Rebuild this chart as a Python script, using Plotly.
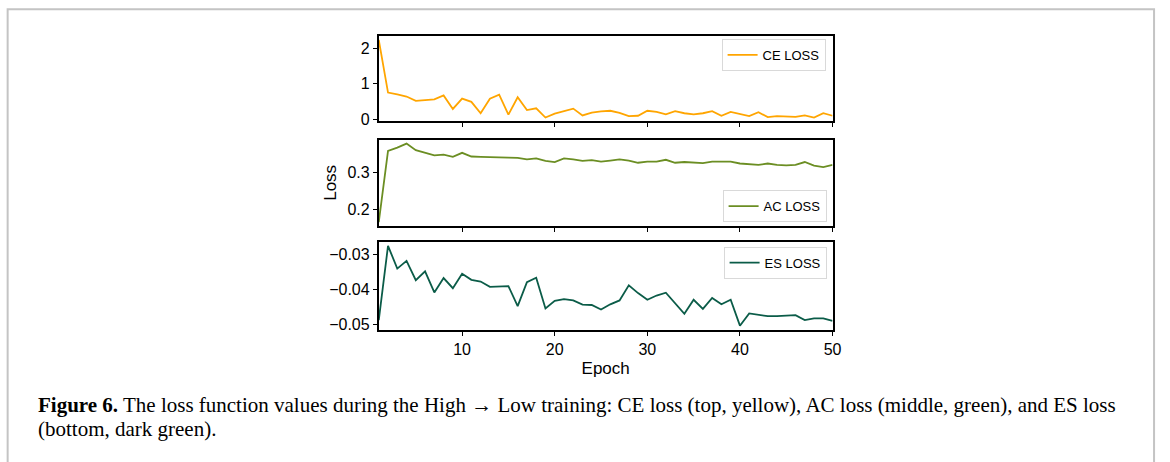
import plotly.graph_objects as go

epochs = list(range(1, 51))

ce_loss = [2.23, 0.75, 0.70, 0.64, 0.52, 0.53, 0.56, 0.67, 0.29, 0.58,
           0.49, 0.17, 0.58, 0.69, 0.13, 0.62, 0.26, 0.31, 0.05, 0.16,
           0.23, 0.30, 0.11, 0.19, 0.22, 0.24, 0.18, 0.09, 0.10, 0.24,
           0.21, 0.14, 0.23, 0.17, 0.14, 0.17, 0.23, 0.10, 0.21, 0.15,
           0.09, 0.20, 0.06, 0.09, 0.07, 0.07, 0.11, 0.05, 0.17, 0.10]

ac_loss = [0.165, 0.358, 0.367, 0.378, 0.360, 0.354, 0.346, 0.348, 0.342, 0.353,
           0.343, 0.342, 0.342, 0.340, 0.340, 0.339, 0.335, 0.338, 0.331, 0.328,
           0.338, 0.335, 0.331, 0.333, 0.329, 0.332, 0.335, 0.332, 0.326, 0.329,
           0.329, 0.334, 0.326, 0.328, 0.327, 0.325, 0.329, 0.329, 0.329, 0.324,
           0.321, 0.320, 0.324, 0.320, 0.319, 0.320, 0.328, 0.318, 0.314, 0.320]

es_loss = [-0.0488, -0.0276, -0.0341, -0.0319, -0.0374, -0.0349, -0.0409, -0.0368, -0.0397, -0.0356,
           -0.0373, -0.0378, -0.0393, -0.0391, -0.0391, -0.0448, -0.0380, -0.0367, -0.0455, -0.0433,
           -0.0428, -0.0432, -0.0444, -0.0445, -0.0458, -0.0443, -0.0432, -0.0389, -0.0411, -0.0430,
           -0.0418, -0.0410, -0.0440, -0.0470, -0.0430, -0.0456, -0.0425, -0.0443, -0.0430, -0.0504,
           -0.0469, -0.0474, -0.0477, -0.0477, -0.0475, -0.0474, -0.0488, -0.0483, -0.0483, -0.0490]

series_names = ["CE LOSS", "AC LOSS", "ES LOSS"]
series_colors = ["#FFA500", "#6B8E23", "#0B5C48"]

x_ticks = [10, 20, 30, 40, 50]
ce_ticks = [0, 1, 2]
ce_ticktext = ["0", "1", "2"]
ac_ticks = [0.2, 0.3]
ac_ticktext = ["0.2", "0.3"]
es_ticks = [-0.05, -0.04, -0.03]
es_ticktext = ["\u22120.05", "\u22120.04", "\u22120.03"]

caption_bold = "Figure 6."
caption_line1 = (" The loss function values during the High \u2192 Low training: CE loss (top, yellow), "
                 "AC loss (middle, green), and ES loss")
caption_line2 = "(bottom, dark green)."

W, H = 1170, 462


def yd(top_px, bot_px):
    return [1 - bot_px / H, 1 - top_px / H]


def padded(vals, frac=0.05):
    lo, hi = min(vals), max(vals)
    p = (hi - lo) * frac
    return [lo - p, hi + p]


xdom = [381.7 / W, 839 / W]
SANS = "Liberation Sans, Arial, Helvetica, sans-serif"
SERIF = "Liberation Serif, Times New Roman, serif"

fig = go.Figure()
data_sets = [ce_loss, ac_loss, es_loss]
for i, (vals, name, col) in enumerate(zip(data_sets, series_names, series_colors)):
    fig.add_trace(go.Scatter(
        x=epochs, y=vals, mode="lines", name=name,
        line=dict(color=col, width=1.8),
        xaxis="x" if i == 0 else f"x{i+1}",
        yaxis="y" if i == 0 else f"y{i+1}",
        legend="legend" if i == 0 else f"legend{i+1}",
    ))

common_x = dict(range=[1, 50], tickvals=x_ticks, ticks="outside", ticklen=4, tickwidth=1.2,
                tickcolor="black", showline=True, linecolor="black", linewidth=1.8,
                mirror=True, showgrid=False, zeroline=False, domain=xdom,
                tickfont=dict(family=SANS, size=16, color="black"))
common_y = dict(ticks="outside", ticklen=4, tickwidth=1.2, tickcolor="black",
                showline=True, linecolor="black", linewidth=1.8, mirror=True,
                showgrid=False, zeroline=False,
                tickfont=dict(family=SANS, size=16, color="black"))

legend_common = dict(bgcolor="white", bordercolor="#d9d9d9", borderwidth=1,
                     font=dict(family=SANS, size=13, color="black"),
                     itemwidth=30, xanchor="right", tracegroupgap=0)

fig.update_layout(
    width=W, height=H,
    margin=dict(l=0, r=0, t=0, b=0),
    paper_bgcolor="white", plot_bgcolor="white",
    xaxis=dict(common_x, anchor="y", showticklabels=False),
    xaxis2=dict(common_x, anchor="y2", showticklabels=False),
    xaxis3=dict(common_x, anchor="y3", showticklabels=True,
                title=dict(text="Epoch", font=dict(family=SANS, size=17, color="black"), standoff=5)),
    yaxis=dict(common_y, anchor="x", domain=yd(36.5, 123), range=padded(ce_loss),
               tickvals=ce_ticks, ticktext=ce_ticktext),
    yaxis2=dict(common_y, anchor="x2", domain=yd(141.5, 229), range=padded(ac_loss),
                tickvals=ac_ticks, ticktext=ac_ticktext,
                title=dict(text="Loss", font=dict(family=SANS, size=17, color="black"), standoff=6)),
    yaxis3=dict(common_y, anchor="x3", domain=yd(245, 334), range=padded(es_loss),
                tickvals=es_ticks, ticktext=es_ticktext),
    legend=dict(legend_common, x=832 / W, y=1 - 39.5 / H, yanchor="top"),
    legend2=dict(legend_common, x=833 / W, y=1 - 225 / H, yanchor="bottom"),
    legend3=dict(legend_common, x=833 / W, y=1 - 250 / H, yanchor="top"),
    showlegend=True,
    shapes=[dict(type="rect", xref="paper", yref="paper",
                 x0=7.7 / W, x1=1163 / W, y0=-0.2, y1=1 - 9.3 / H,
                 line=dict(color="#c4c4c4", width=2), fillcolor="rgba(0,0,0,0)", layer="below")],
    annotations=[
        dict(text=f"<b>{caption_bold}</b>{caption_line1}", xref="paper", yref="paper",
             x=36 / W, y=1 - 410 / H, xanchor="left", yanchor="middle", showarrow=False,
             font=dict(family=SERIF, size=21, color="black")),
        dict(text=caption_line2, xref="paper", yref="paper",
             x=36 / W, y=1 - 435 / H, xanchor="left", yanchor="middle", showarrow=False,
             font=dict(family=SERIF, size=21, color="black")),
    ],
)

fig.write_html("out.html")
